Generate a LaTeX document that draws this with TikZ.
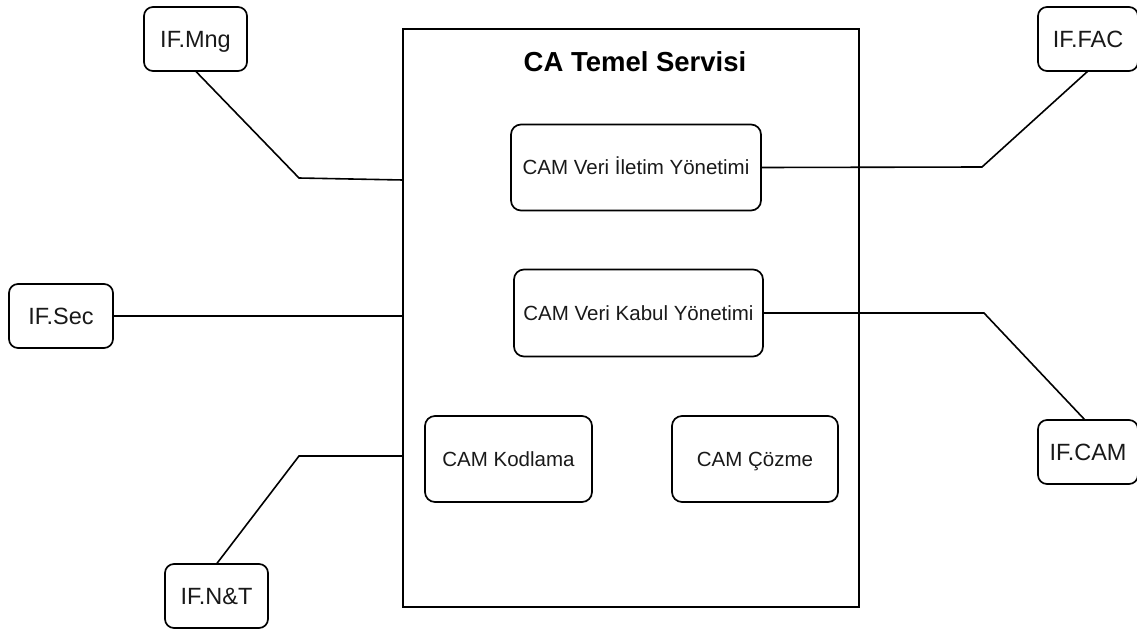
\documentclass[tikz,border=0pt]{standalone}
\usepackage{fontspec}
\setmainfont{Liberation Sans}
\begin{document}
\begin{tikzpicture}[x=1pt,y=-1pt,
  every node/.style={inner sep=0pt, outer sep=0pt, text depth=0pt},
  box/.style={draw=black, line width=1.7pt, rounded corners=10pt, align=center,
    font=\fontsize{20.5}{24}\selectfont, text=black!90, text height=14.7pt},
  ifbox/.style={draw=black, line width=1.7pt, rounded corners=9pt, align=center,
    minimum width=103pt, minimum height=64pt, text height=16.8pt,
    font=\fontsize{23.5}{27}\selectfont, text=black!90},
  conn/.style={draw=black, line width=1.6pt}]
\useasboundingbox (0,0) rectangle (1137,629);
% main container
\node[draw=black, line width=1.7pt, minimum width=456pt, minimum height=578pt] (main) at (631,318) {};
\node[font=\bfseries\fontsize{27.5}{32}\selectfont, text height=19.7pt] (title) at (635,61.5) {CA Temel Servisi};
% inner boxes
\node[box, minimum width=250pt, minimum height=86pt] (iletim) at (636,167.5) {CAM Veri İletim Yönetimi};
\node[box, minimum width=249pt, minimum height=87pt] (kabul) at (638.5,313) {CAM Veri Kabul Yönetimi};
\node[box, minimum width=167pt, minimum height=86pt] (kod) at (508.5,459) {CAM Kodlama};
\node[box, minimum width=166pt, minimum height=86pt] (coz) at (755,459) {CAM Çözme};
% interface boxes
\node[ifbox] (mng) at (195.5,39) {IF.Mng};
\node[ifbox, minimum width=100pt] (fac) at (1088,39) {IF.FAC};
\node[ifbox, minimum width=104pt] (sec) at (61,316) {IF.Sec};
\node[ifbox, minimum width=100pt] (cam) at (1088,452) {IF.CAM};
\node[ifbox] (nt) at (216.5,596) {IF.N\&T};
% bend coordinates
\coordinate (mngbend) at (299,178);
\coordinate (mngend) at (403,180);
\coordinate (facbend) at (982,167);
\coordinate (cambend) at (984,313);
\coordinate (ntbend) at (299,456);
\coordinate (ntend) at (403,456);
% connectors
\draw[conn] (mng.south) -- (mngbend) -- (mngend);
\draw[conn] (iletim.east) -- (facbend) -- (fac.south);
\draw[conn] (sec.east) -- (main.west |- sec.east);
\draw[conn] (kabul.east) -- (cambend) -- ([xshift=-3pt]cam.north);
\draw[conn] (nt.north) -- (ntbend) -- (ntend);
\end{tikzpicture}
\end{document}
